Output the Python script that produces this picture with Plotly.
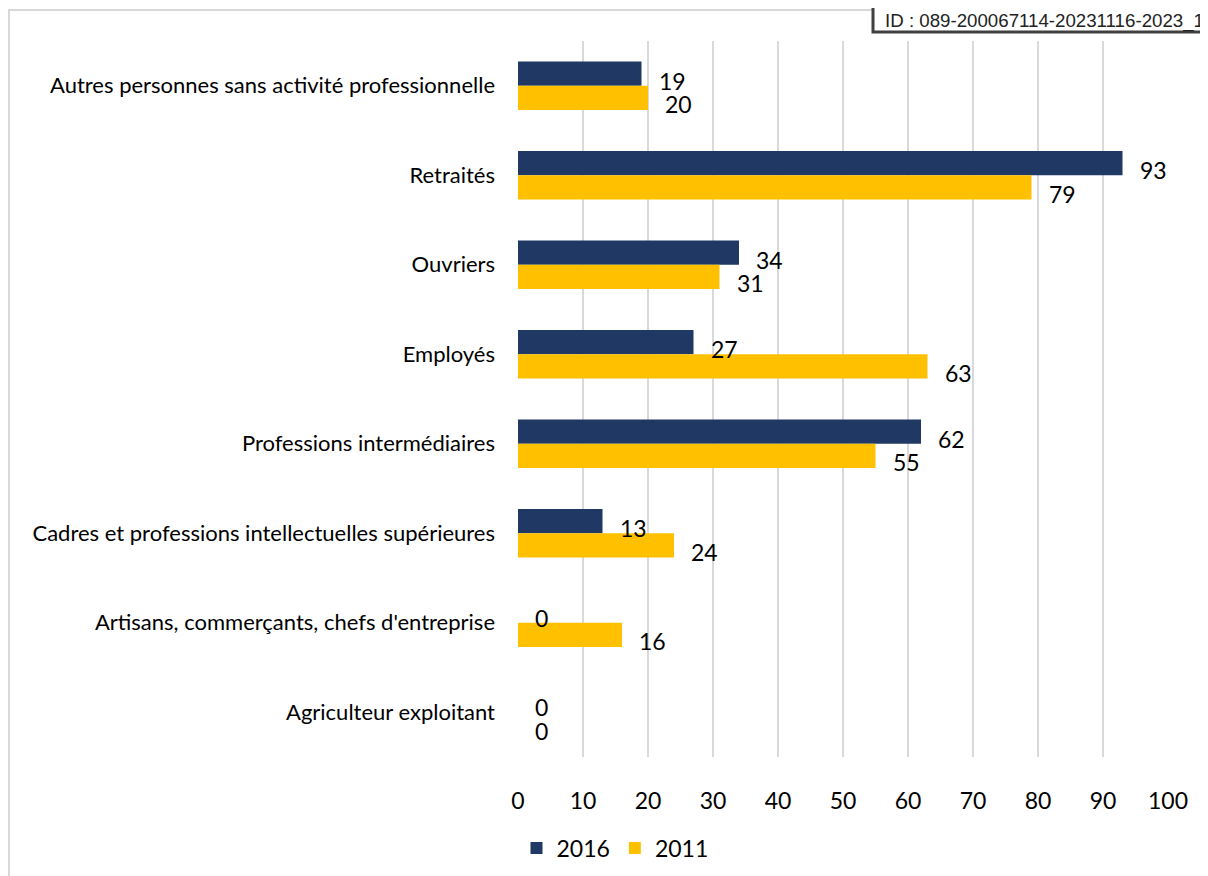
import plotly.graph_objects as go

categories = [
    "Autres personnes sans activité professionnelle",
    "Retraités",
    "Ouvriers",
    "Employés",
    "Professions intermédiaires",
    "Cadres et professions intellectuelles supérieures",
    "Artisans, commerçants, chefs d'entreprise",
    "Agriculteur exploitant",
]
values_2016 = [19, 93, 34, 27, 62, 13, 0, 0]
values_2011 = [20, 79, 31, 63, 55, 24, 16, 0]
series_names = ["2016", "2011"]
x_ticks = [0, 10, 20, 30, 40, 50, 60, 70, 80, 90, 100]
id_text = "ID : 089-200067114-20231116-2023_1"

NAVY = "#203864"
GOLD = "#FFC000"
FONT = "Lato"
CAT_SIZE = 22
NUM_SIZE = 23

# page offset (body margin)
OFF = 8
W, H = 1200, 868
L, R, T, B = 510, 40, 33, 119
pw, ph = W - L - R, H - T - B

def px(x):
    return (x - OFF - L) / pw

def py(y):
    return (H - B - (y - OFF)) / ph

fig = go.Figure()
fig.add_trace(go.Bar(y=categories, x=values_2016, name=series_names[0], orientation="h",
                     marker=dict(color=NAVY, line=dict(width=0))))
fig.add_trace(go.Bar(y=categories, x=values_2011, name=series_names[1], orientation="h",
                     marker=dict(color=GOLD, line=dict(width=0))))

annotations = []
for vals, ys in ((values_2016, 5), (values_2011, -18.5)):
    for c, v in zip(categories, vals):
        annotations.append(dict(x=v, y=c, xref="x", yref="y", text=str(v), showarrow=False,
                                xanchor="left", yanchor="middle", xshift=15, yshift=ys,
                                font=dict(family=FONT, size=NUM_SIZE, color="#000000")))

annotations.append(dict(x=px(883), y=py(8), xref="paper", yref="paper", text=id_text,
                        showarrow=False, xanchor="left", yanchor="top",
                        font=dict(family="Liberation Sans", size=18.7, color="#222222")))

shapes = [
    dict(type="rect", xref="paper", yref="paper", x0=px(9), x1=px(1230), y0=py(10), y1=py(900),
         line=dict(color="#D9D9D9", width=2), fillcolor="rgba(0,0,0,0)", layer="below"),
    dict(type="rect", xref="paper", yref="paper", x0=px(873), x1=px(1230), y0=py(-20), y1=py(32),
         line=dict(color="#404040", width=3), fillcolor="#FFFFFF", layer="above"),
]

fig.update_layout(
    width=W, height=H,
    margin=dict(l=L, r=R, t=T, b=B, autoexpand=False),
    paper_bgcolor="white", plot_bgcolor="white",
    barmode="group", bargap=0.46, bargroupgap=0,
    font=dict(family=FONT, size=CAT_SIZE, color="#000000"),
    xaxis=dict(range=[0, 100], tickvals=x_ticks, showgrid=True, gridcolor="#D9D9D9", gridwidth=2,
               zeroline=False, showline=False, ticks="", ticklabelstandoff=28,
               tickfont=dict(family=FONT, size=NUM_SIZE, color="#000000")),
    yaxis=dict(autorange="reversed", showgrid=False, zeroline=False, showline=False, ticks="",
               ticklabelstandoff=22, tickfont=dict(family=FONT, size=CAT_SIZE, color="#000000")),
    legend=dict(orientation="h", x=px(615), xanchor="center", y=py(848), yanchor="middle",
                font=dict(family=FONT, size=NUM_SIZE, color="#000000"), itemwidth=30,
                bgcolor="rgba(0,0,0,0)"),
    annotations=annotations, shapes=shapes, showlegend=True,
)

fig.write_html("out.html")
